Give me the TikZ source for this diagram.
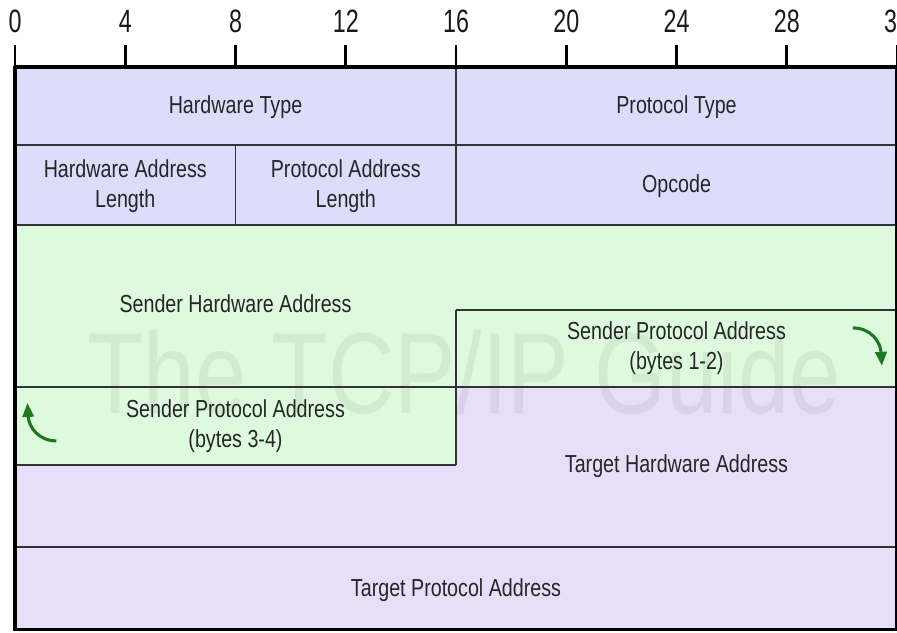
\documentclass[tikz,border=0pt]{standalone}
\usepackage{fontspec}
\setmainfont{Liberation Sans}[FakeStretch=0.8]
\newfontfamily\rulerfont{Liberation Sans}[FakeStretch=0.72]
\usetikzlibrary{arrows.meta}
\definecolor{hdrfill}{HTML}{DCDDFA}
\definecolor{sndfill}{HTML}{DEFADE}
\definecolor{tgtfill}{HTML}{EADDFA}
\definecolor{rule}{HTML}{333333}
\definecolor{turn}{HTML}{1B7A1E}

\begin{document}
\begin{tikzpicture}[x=0.68906cm, y=-0.025cm,
  field/.style={text=black!85, align=center, font=\fontsize{17.5}{21.5}\selectfont},
  bitnum/.style={text=black!90, font=\rulerfont\fontsize{23}{26}\selectfont},
  sep/.style={draw=rule, line width=1.3pt},
  frame/.style={draw=black, line width=2.2pt},
  wrap/.style={-{Triangle[length=10pt,width=8pt]}, draw=turn, line width=2.2pt}]
  \useasboundingbox (-0.5442,0) rectangle (32,633);
  % background of the three groups of fields
  \fill[hdrfill] (0,67) rectangle (32,225);
  \fill[sndfill] (0,225) -- (32,225) -- (32,387) -- (16,387) -- (16,465) -- (0,465) -- cycle;
  \fill[tgtfill] (0,465) -- (16,465) -- (16,387) -- (32,387) -- (32,630) -- (0,630) -- cycle;
  \node[text=black, text opacity=0.06, font=\fontsize{82}{90}\selectfont] (wm) at (16.3,372) {The TCP/IP Guide};
  % bit ruler
  \foreach \b in {0,4,...,32} {
    \draw[line width=1.8pt] (\b,45) -- (\b,67);
    \node[bitnum] (b\b) at (\b,21) {\b};
  }
  % field borders
  \draw[sep] (0,145) -- (32,145);
  \draw[sep] (0,225) -- (32,225);
  \draw[sep] (16,67) -- (16,225);
  \draw[sep] (8,145) -- (8,225);
  \draw[sep] (16,310) -- (32,310);
  \draw[sep] (0,387) -- (32,387);
  \draw[sep] (16,310) -- (16,465);
  \draw[sep] (0,465) -- (16,465);
  \draw[sep] (0,547) -- (32,547);
  \draw[frame] (0,67) -- (32,67);
  \draw[frame] (0,630) -- (32,630);
  \draw[frame] (0,66) -- (0,631);
  \draw[frame] (32,66) -- (32,631);
  % field names
  \node[field] (hwtype) at (8,107) {Hardware Type};
  \node[field] (ptype) at (24,107) {Protocol Type};
  \node[field] (hwlen) at (4,186) {Hardware Address\\Length};
  \node[field] (plen) at (12,186) {Protocol Address\\Length};
  \node[field] (opcode) at (24,186) {Opcode};
  \node[field] (sha) at (8,304) {Sender Hardware Address};
  \node[field] (spa1) at (24,348) {Sender Protocol Address\\(bytes 1-2)};
  \node[field] (spa2) at (8,426) {Sender Protocol Address\\(bytes 3-4)};
  \node[field] (tha) at (24,466) {Target Hardware Address};
  \node[field] (tpa) at (16,590) {Target Protocol Address};
  % wrap-around marks
  \coordinate (rtop) at (30.4,328);
  \coordinate (rend) at (31.45,366);
  \coordinate (lbot) at (1.5,441);
  \coordinate (lend) at (0.45,403);
  \draw[wrap] (rtop) .. controls (31.05,328) and (31.4,342) .. (rend);
  \draw[wrap] (lbot) .. controls (0.85,441) and (0.5,427) .. (lend);
\end{tikzpicture}
\end{document}
